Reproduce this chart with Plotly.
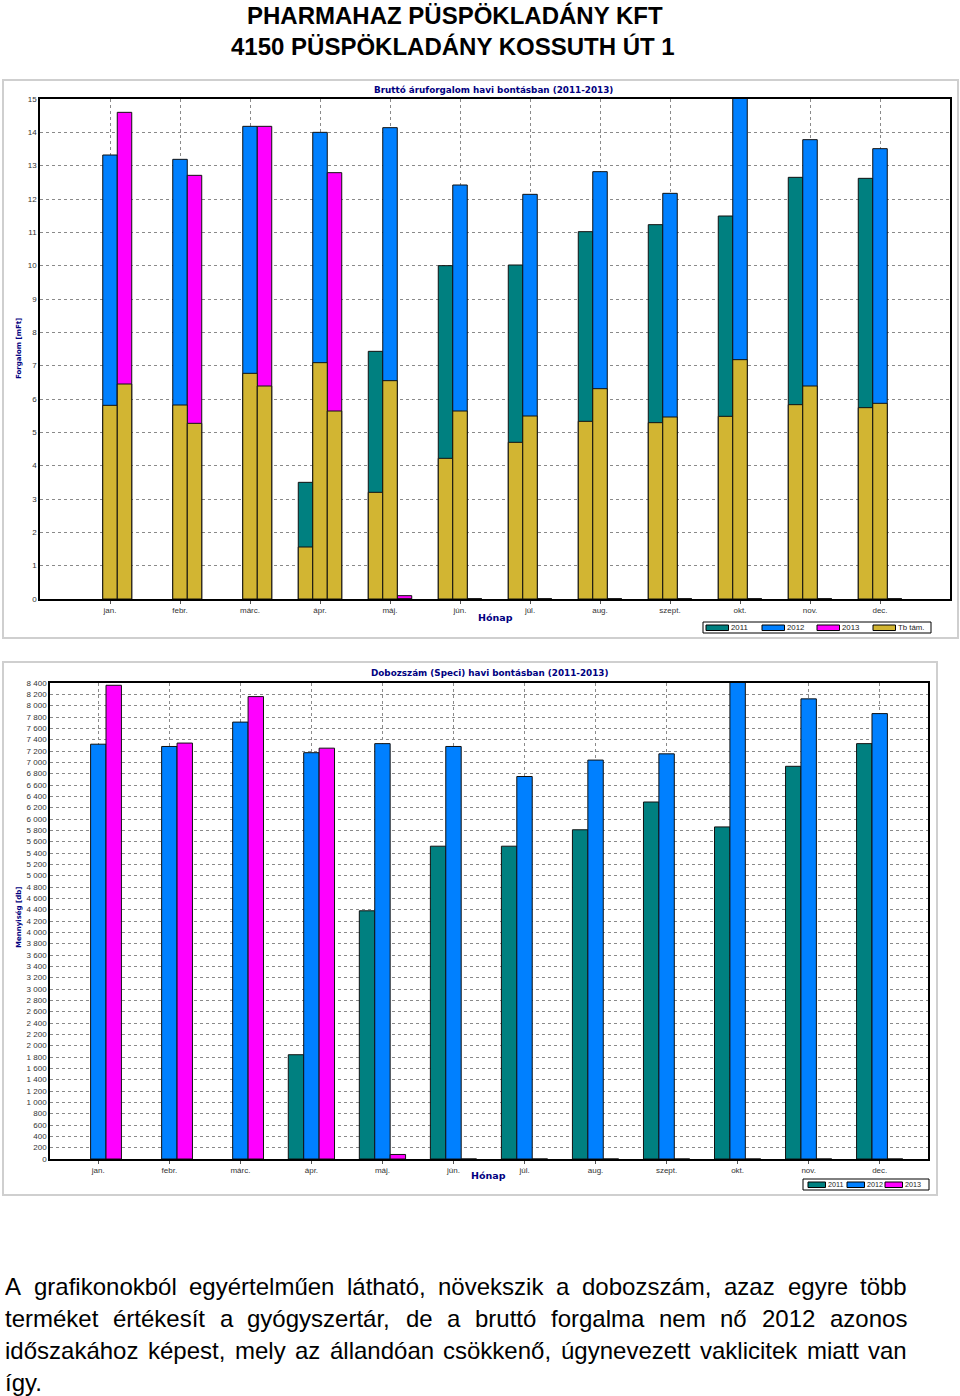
import plotly.graph_objects as go

# ---------------- data ----------------
months = ["jan.", "febr.", "márc.", "ápr.", "máj.", "jún.", "júl.", "aug.",
          "szept.", "okt.", "nov.", "dec."]

# Bruttó áruforgalom [mFt]
rev_2011 = [None, None, None, 3.50, 7.43, 10.00, 10.02, 11.02, 11.23, 11.49, 12.65, 12.62]
rev_2012 = [13.32, 13.19, 14.18, 14.00, 14.14, 12.42, 12.14, 12.82, 12.17, 15.60, 13.78, 13.51]
rev_2013 = [14.60, 12.71, 14.18, 12.79, 0.10, 0, 0, 0, 0, 0, 0, 0]
# Tb támogatás része [mFt]
tb_2011 = [None, None, None, 1.56, 3.20, 4.22, 4.70, 5.33, 5.29, 5.48, 5.83, 5.74]
tb_2012 = [5.81, 5.82, 6.77, 7.09, 6.55, 5.64, 5.49, 6.31, 5.46, 7.18, 6.39, 5.87]
tb_2013 = [6.45, 5.27, 6.39, 5.64, 0, 0, 0, 0, 0, 0, 0, 0]

# Dobozszám [db]
box_2011 = [None, None, None, 1840, 4380, 5520, 5520, 5810, 6300, 5860, 6930, 7330]
box_2012 = [7320, 7280, 7710, 7170, 7330, 7280, 6750, 7040, 7150, 8650, 8120, 7860]
box_2013 = [8360, 7340, 8160, 7250, 80, 0, 0, 0, 0, 0, 0, 0]

legend1_names = ["2011", "2012", "2013", "Tb tám."]
legend2_names = ["2011", "2012", "2013"]

title_lines = ["PHARMAHAZ PÜSPÖKLADÁNY KFT", "4150 PÜSPÖKLADÁNY KOSSUTH ÚT 1"]
chart1_title = "Bruttó áruforgalom havi bontásban (2011-2013)"
chart2_title = "Dobozszám (Speci) havi bontásban (2011-2013)"
y1_title = "Forgalom [mFt]"
y2_title = "Mennyiség [db]"
x_title = "Hónap"
para_lines = [
    "A grafikonokból egyértelműen látható, növekszik a dobozszám, azaz egyre több",
    "terméket értékesít a gyógyszertár, de a bruttó forgalma nem nő 2012 azonos",
    "időszakához képest, mely az állandóan csökkenő, úgynevezett vaklicitek miatt van",
    "így.",
]

# ---------------- styles ----------------
W, H = 960, 1396
C2011, C2012, C2013, CTB = "#008080", "#0080FF", "#FF00FF", "#D2B532"
NAVY = "#000080"
SMALL = "DejaVu Sans, Verdana, sans-serif"
ARIAL = "Liberation Sans, Arial, sans-serif"


def fx(px):
    return px / W


def fy(py):
    return 1 - py / H


fig = go.Figure()

# ---------- top chart ----------
w1 = 0.207
offs1 = [-1.5 * w1, -0.5 * w1, 0.5 * w1]
for name, vals, col, off in [("2011", rev_2011, C2011, offs1[0]),
                             ("2012", rev_2012, C2012, offs1[1]),
                             ("2013", rev_2013, C2013, offs1[2])]:
    fig.add_trace(go.Bar(x=months, y=vals, name=name, width=w1, offset=off,
                         marker=dict(color=col, line=dict(color="#111", width=1)),
                         xaxis="x", yaxis="y", showlegend=False))
for i, (vals, off) in enumerate([(tb_2011, offs1[0]), (tb_2012, offs1[1]), (tb_2013, offs1[2])]):
    fig.add_trace(go.Bar(x=months, y=vals, name="Tb tám.", width=w1, offset=off,
                         marker=dict(color=CTB, line=dict(color="#111", width=1)),
                         showlegend=False, xaxis="x", yaxis="y"))

# ---------- bottom chart ----------
w2 = 0.217
offs2 = [-1.5 * w2, -0.5 * w2, 0.5 * w2]
for name, vals, col, off in [("2011", box_2011, C2011, offs2[0]),
                             ("2012", box_2012, C2012, offs2[1]),
                             ("2013", box_2013, C2013, offs2[2])]:
    fig.add_trace(go.Bar(x=months, y=vals, name=name, width=w2, offset=off,
                         marker=dict(color=col, line=dict(color="#111", width=1)),
                         xaxis="x2", yaxis="y2", showlegend=False))

tickfont = dict(family=ARIAL, size=8, color="#333")
grid = dict(showgrid=True, gridcolor="#8a8a8a", griddash="dot", gridwidth=1)

fig.update_layout(
    width=W, height=H, margin=dict(l=0, r=0, t=0, b=0, autoexpand=False),
    paper_bgcolor="white", plot_bgcolor="white", showlegend=False,
    barmode="overlay", separators=", ",
    xaxis=dict(domain=[fx(40), fx(950)], anchor="y", type="category",
               range=[-1, 12], tickfont=tickfont, showline=True, linecolor="#000",
               linewidth=1.5, mirror=True, ticks="outside", ticklen=3, tickcolor="#555",
               **grid),
    yaxis=dict(domain=[fy(599), fy(99)], anchor="x", range=[0, 15], dtick=1,
               tickfont=tickfont, showline=True, linecolor="#000", linewidth=1.5,
               mirror=True, ticks="", zeroline=False, **grid),
    xaxis2=dict(domain=[fx(50), fx(928)], anchor="y2", type="category",
                range=[-0.68, 11.68], tickfont=tickfont, showline=True, linecolor="#000",
                linewidth=1.5, mirror=True, ticks="outside", ticklen=3, tickcolor="#555",
                **grid),
    yaxis2=dict(domain=[fy(1159), fy(683)], anchor="x2", range=[0, 8400], dtick=200,
                tickformat=",", tickfont=tickfont, showline=True, linecolor="#000",
                linewidth=1.5, mirror=True, ticks="", zeroline=False, **grid),
)

shapes = []
# frames around the chart images
shapes.append(dict(type="rect", xref="paper", yref="paper", x0=fx(3), x1=fx(958),
                   y0=fy(638), y1=fy(80), line=dict(color="#cfcfcf", width=2), layer="below"))
shapes.append(dict(type="rect", xref="paper", yref="paper", x0=fx(3), x1=fx(937),
                   y0=fy(1195), y1=fy(662), line=dict(color="#cfcfcf", width=2), layer="below"))

ann = []


def text(x, y, s, size, family=ARIAL, color="#000", bold=False, xanchor="center",
         angle=0, pad=1):
    ann.append(dict(x=fx(x), y=fy(y), xref="paper", yref="paper", showarrow=False,
                    text=("<b>%s</b>" % s) if bold else s, xanchor=xanchor,
                    yanchor="middle", textangle=angle, borderpad=pad,
                    font=dict(family=family, size=size, color=color)))


def legend_box(x0, x1, y0, y1, names, colors, sw_x, sw_w, sw_y0, sw_y1, fs):
    shapes.append(dict(type="rect", xref="paper", yref="paper", x0=fx(x0), x1=fx(x1),
                       y0=fy(y1), y1=fy(y0), line=dict(color="#000", width=1),
                       fillcolor="white"))
    for nm, col, sx in zip(names, colors, sw_x):
        shapes.append(dict(type="rect", xref="paper", yref="paper", x0=fx(sx),
                           x1=fx(sx + sw_w), y0=fy(sw_y1), y1=fy(sw_y0),
                           line=dict(color="#000", width=1), fillcolor=col))
        text(sx + sw_w + 1.5, (y0 + y1) / 2, nm, fs, color="#222", xanchor="left", pad=0)


legend_box(703, 931, 622, 633, legend1_names, [C2011, C2012, C2013, CTB],
           [706, 762, 817, 873], 22.5, 625, 630.5, 7.8)
legend_box(803, 929, 1179, 1190, legend2_names, [C2011, C2012, C2013],
           [808, 847, 885], 17.5, 1182, 1187.5, 7.2)

# page heading
text(455, 15.5, title_lines[0], 24, bold=True)
text(453, 46.5, title_lines[1], 24, bold=True)

# chart titles and axis titles
text(494, 90, chart1_title, 8.8, family=SMALL, color=NAVY, bold=True)
text(489, 673, chart2_title, 8.8, family=SMALL, color=NAVY, bold=True)
text(19, 349, y1_title, 7, family=SMALL, color=NAVY, bold=True, angle=-90)
text(19, 918, y2_title, 7, family=SMALL, color=NAVY, bold=True, angle=-90)
text(495, 617, x_title, 9.5, family=SMALL, color=NAVY, bold=True)
text(488, 1175, x_title, 9.5, family=SMALL, color=NAVY, bold=True)

# justified paragraph (Arial metrics, 1/1000 em)
AW = {' ': 278, ',': 278, '.': 278, 'A': 667}
for c in "abdeghnopqu0123456789áéóöőúüű":
    AW[c] = 556
for c in "ckszvxy":
    AW[c] = 500
AW.update({'f': 278, 't': 278, 'í': 278, 'i': 222, 'j': 222, 'l': 222, 'm': 833,
           'r': 333, 'w': 722})
FS = 24
LEFT, RIGHT = 4, 906
baselines = [1295, 1327, 1359, 1391]
for li, line in enumerate(para_lines):
    words = line.split(" ")
    ymid = baselines[li] - 0.3465 * FS
    widths = [sum(AW.get(c, 556) for c in wd) * FS / 1000 for wd in words]
    if li < len(para_lines) - 1 and len(words) > 1:
        gap = (RIGHT - LEFT - sum(widths)) / (len(words) - 1)
    else:
        gap = AW[' '] * FS / 1000
    xpos = LEFT
    for wd, wdt in zip(words, widths):
        text(xpos - 1, ymid, wd, FS, xanchor="left")
        xpos += wdt + gap

fig.update_layout(annotations=ann, shapes=shapes)

fig.write_html("out.html", config={"displayModeBar": False},
               post_script="document.body.style.margin='0';document.body.style.overflow='hidden';")
